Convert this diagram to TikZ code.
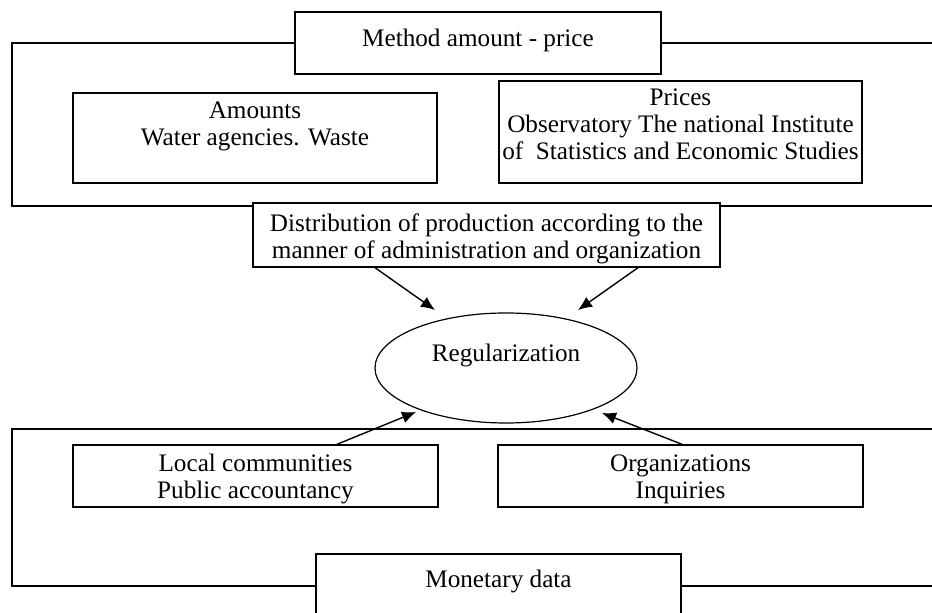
\documentclass[tikz,border=0pt]{standalone}
\usepackage{fontspec}
\setmainfont{Liberation Serif}
\usetikzlibrary{shapes.geometric,arrows.meta}

\begin{document}
\begin{tikzpicture}[x=0.5pt, y=-0.5pt, align=center,
    font=\fontsize{12.6pt}{13.6pt}\selectfont,
    box/.style={draw, line width=0.7pt, fill=white, inner xsep=0pt, inner ysep=0pt},
    frame/.style={line width=0.6pt},
    arr/.style={-{Latex[length=7pt,width=6pt]}, line width=0.7pt}]
      \useasboundingbox (0,0) rectangle (932,613);
      \clip (0,0) rectangle (932,613);

      % upper frame, open to the right
      \node[box, minimum width=183pt, text height=17.5pt, text depth=13.5pt] (meth) at (478,43) {Method amount - price};
      \coordinate (tl) at (12,43);
      \coordinate (tr) at (932,43);
      \coordinate (bl) at (12,206);
      \coordinate (br) at (932,206);
      \draw[frame] (meth.west) -- (tl) -- (bl) -- (br);
      \draw[frame] (meth.east) -- (tr);

      % text height/depth are taken from the last line
      \node[box, minimum width=182pt, text height=26.5pt, text depth=18.5pt] (amt) at (255,138) {Amounts\\Water agencies. Waste};
      \node[box, minimum width=181.5pt, text height=39.5pt, text depth=11.5pt] (price) at (680.5,132) {Prices\\Observatory The national Institute\\of\ \ Statistics and Economic Studies};
      \node[box, minimum width=233.5pt, text height=28pt, text depth=4pt] (dist) at (486.5,235) {Distribution of production according to the\\manner of administration and organization};

      \node[draw, ellipse, line width=0.6pt, inner sep=0pt, minimum width=131pt, minimum height=55pt, text height=8.5pt, text depth=14.5pt] (reg) at (506,368) {Regularization};

      % lower frame, open to the right
      \coordinate (tl2) at (12,429);
      \coordinate (tr2) at (932,429);
      \coordinate (bl2) at (12,586);
      \coordinate (br2) at (932,586);
      \draw[frame] (tr2) -- (tl2) -- (bl2) -- (br2);

      \node[box, minimum width=182.5pt, text height=27pt, text depth=4pt] (loc) at (255.5,476) {Local communities\\Public accountancy};
      \node[box, minimum width=182.5pt, text height=27pt, text depth=4pt] (org) at (680.5,476) {Organizations\\Inquiries};
      \node[box, minimum width=182.5pt, text height=17pt, text depth=18.5pt] (mon) at (498.5,589.5) {Monetary data};

      \coordinate (a1) at (435,310);
      \coordinate (a2) at (578,310);
      \coordinate (a3) at (416,412);
      \coordinate (a4) at (602,413);

      \draw[arr] (375,0 |- dist.south) -- (a1);
      \draw[arr] (638,0 |- dist.south) -- (a2);
      \draw[arr] (337,0 |- loc.north) -- (a3);
      \draw[arr] (682,0 |- org.north) -- (a4);
    \end{tikzpicture}
\end{document}
